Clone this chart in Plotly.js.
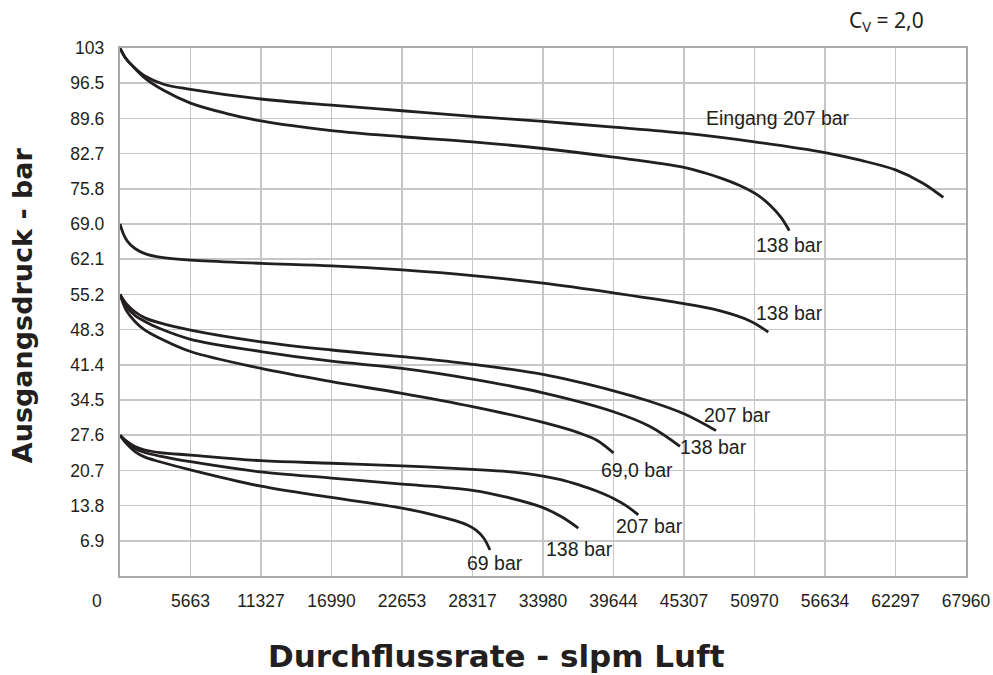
<!DOCTYPE html>
<html>
<head>
<meta charset="utf-8">
<script src="https://cdn.plot.ly/plotly-3.0.1.min.js"></script>
<style>html,body{margin:0;padding:0;background:#fff;}#chart{width:993px;height:675px;}</style>
</head>
<body>
<div id="chart"></div>
<script>
// ---- Tick labels ----
const xTickVals = [5663, 11327, 16990, 22653, 28317, 33980, 39644, 45307, 50970, 56634, 62297, 67960];
const xTickText = ["5663", "11327", "16990", "22653", "28317", "33980", "39644", "45307", "50970", "56634", "62297", "67960"];
const yTickVals = [6.9, 13.8, 20.7, 27.6, 34.5, 41.4, 48.3, 55.2, 62.1, 69.0, 75.9, 82.8, 89.7, 96.6, 103.5];
const yTickText = ["6.9", "13.8", "20.7", "27.6", "34.5", "41.4", "48.3", "55.2", "62.1", "69.0", "75.8", "82.7", "89.6", "96.5", "103"];

// ---- Curves (flow slpm, outlet pressure bar) ----
// Inlet 207 bar, set ~103 bar
const a207X = [0, 400, 1000, 2000, 3500, 5663, 11327, 16990, 22653, 28317, 33980, 39644, 45307, 50970, 56634, 59465, 62297, 64500, 66136];
const a207Y = [103.5, 101.7, 100.0, 98.0, 96.4, 95.4, 93.5, 92.3, 91.2, 90.1, 89.1, 88.0, 86.8, 85.1, 83.0, 81.5, 79.6, 77.0, 74.2];
// Inlet 138 bar, set ~103 bar
const a138X = [0, 400, 1000, 2000, 3500, 5663, 8495, 11327, 16990, 22653, 28317, 33980, 39644, 45307, 47000, 48500, 50000, 51200, 52300, 53100, 53765];
const a138Y = [103.5, 101.7, 100.0, 97.6, 95.2, 92.7, 90.7, 89.2, 87.3, 86.1, 85.1, 83.8, 82.1, 80.1, 79.0, 77.8, 76.3, 74.7, 72.5, 70.3, 67.7];
// Inlet 138 bar, set ~69 bar
const b138X = [0, 250, 600, 1200, 2000, 3200, 5663, 11327, 16990, 22653, 28317, 33980, 39644, 45307, 48000, 50608, 52078];
const b138Y = [69.0, 67.2, 65.6, 64.2, 63.2, 62.5, 61.9, 61.3, 60.8, 60.0, 58.9, 57.4, 55.5, 53.4, 52.1, 50.0, 47.8];
// set ~55 bar
const c207X = [0, 500, 1200, 2000, 3200, 5663, 11327, 16990, 22653, 28317, 33980, 39644, 42475, 45307, 47877];
const c207Y = [55.2, 53.4, 51.8, 50.6, 49.6, 48.2, 45.9, 44.3, 43.0, 41.5, 39.5, 36.3, 34.3, 31.8, 28.5];
const c138X = [0, 500, 1200, 2000, 3200, 5663, 11327, 16990, 22653, 28317, 33980, 39644, 42576, 44986];
const c138Y = [55.2, 52.9, 51.1, 49.9, 48.5, 46.4, 44.0, 42.1, 40.7, 38.6, 35.9, 32.2, 29.3, 25.4];
const c69X = [0, 500, 1200, 2000, 3200, 5663, 11327, 16990, 22653, 28317, 33980, 36812, 38300, 39644];
const c69Y = [55.2, 52.1, 49.9, 48.2, 46.6, 44.0, 40.7, 38.1, 35.8, 33.2, 30.1, 28.1, 26.6, 24.1];
// set ~27.6 bar
const d207X = [0, 500, 1200, 2000, 3200, 5663, 11327, 16990, 22653, 28317, 31148, 33980, 35400, 36812, 38228, 39644, 40650, 41636];
const d207Y = [27.6, 26.5, 25.4, 24.7, 24.2, 23.7, 22.6, 22.1, 21.6, 20.9, 20.45, 19.6, 18.9, 17.9, 16.7, 15.2, 13.8, 12.0];
const d138X = [0, 500, 1200, 2000, 3200, 5663, 11327, 16990, 22653, 25485, 28317, 31148, 33980, 35400, 36816];
const d138Y = [27.6, 26.3, 25.0, 24.2, 23.5, 22.4, 20.4, 19.2, 18.0, 17.5, 16.8, 15.4, 13.4, 11.7, 9.4];
const d69X = [0, 500, 1200, 2000, 3200, 5663, 11327, 16990, 22653, 25168, 27000, 27900, 28600, 29200, 29722];
const d69Y = [27.6, 26.0, 24.4, 23.3, 22.4, 20.8, 17.6, 15.4, 13.3, 12.0, 10.8, 10.0, 9.0, 7.5, 5.1];

// ---- Curve labels ----
const labelText = ["Eingang 207 bar", "138 bar", "138 bar", "207 bar", "138 bar", "69,0 bar", "207 bar", "138 bar", "69 bar"];
const labelX = [52857, 53821, 53821, 49564, 47636, 41531, 42575, 36872, 30124];
const labelY = [89.8, 64.9, 51.6, 31.6, 25.3, 20.8, 9.8, 5.3, 2.6];

const lineColor = "#231f20";
const series = [[a207X, a207Y], [a138X, a138Y], [b138X, b138Y], [c207X, c207Y], [c138X, c138Y], [c69X, c69Y], [d207X, d207Y], [d138X, d138Y], [d69X, d69Y]];
const traces = series.map(s => ({
  x: s[0], y: s[1], type: "scatter", mode: "lines",
  line: {color: lineColor, width: 2.8, shape: "spline", smoothing: 1},
  hoverinfo: "skip", showlegend: false
}));

const tickFont = {family: "Liberation Sans, Arial, sans-serif", size: 17.5, color: "#231f20"};
const titleFont = {family: "DejaVu Sans, sans-serif", size: 31, weight: "bold", color: "#231f20"};
const annotations = labelText.map((t, i) => ({
  x: labelX[i], y: labelY[i], xref: "x", yref: "y", text: t, showarrow: false,
  xanchor: "center", yanchor: "middle",
  font: {family: "Liberation Sans, Arial, sans-serif", size: 19.5, color: "#231f20"}
}));
// "0" tick label at the corner
annotations.push({
  x: -0.027, y: -0.047, xref: "paper", yref: "paper", text: "0", showarrow: false,
  xanchor: "center", yanchor: "middle", font: tickFont
});
// Cv label
annotations.push({
  x: 0.906, y: 1.051, xref: "paper", yref: "paper",
  text: "C<sub>V</sub> = 2,0", showarrow: false, xanchor: "center", yanchor: "middle",
  font: {family: "Noto Sans, Open Sans, sans-serif", size: 21, color: "#231f20"}
});
// Axis titles
annotations.push({
  x: 0.445, y: -0.1515, xref: "paper", yref: "paper", text: "Durchflussrate - slpm Luft",
  showarrow: false, xanchor: "center", yanchor: "middle", font: titleFont
});
annotations.push({
  x: -0.1158, y: 0.513, xref: "paper", yref: "paper", text: "Ausgangsdruck - bar",
  showarrow: false, xanchor: "center", yanchor: "middle", textangle: -90,
  font: {family: "DejaVu Sans, sans-serif", size: 27, weight: "bold", color: "#231f20"}
});

const layout = {
  width: 993, height: 675,
  margin: {l: 120, r: 27, t: 48, b: 99, pad: 0},
  paper_bgcolor: "#ffffff", plot_bgcolor: "#ffffff",
  showlegend: false,
  xaxis: {
    range: [0, 67960], tickmode: "array", tickvals: xTickVals, ticktext: xTickText,
    showgrid: true, gridcolor: "#c6c6c8", gridwidth: 1.5,
    showline: true, linecolor: "#a9a9ab", linewidth: 2.2, mirror: true,
    ticks: "", tickfont: tickFont, ticklabelstandoff: 8, zeroline: false
  },
  yaxis: {
    range: [0, 103.5], tickmode: "array", tickvals: yTickVals, ticktext: yTickText,
    showgrid: true, gridcolor: "#c6c6c8", gridwidth: 1.5,
    showline: true, linecolor: "#a9a9ab", linewidth: 2.2, mirror: true,
    ticks: "", tickfont: tickFont, ticklabelstandoff: 10, zeroline: false
  },
  annotations: annotations
};

Plotly.newPlot("chart", traces, layout, {staticPlot: true, displayModeBar: false});
</script>
</body>
</html>
